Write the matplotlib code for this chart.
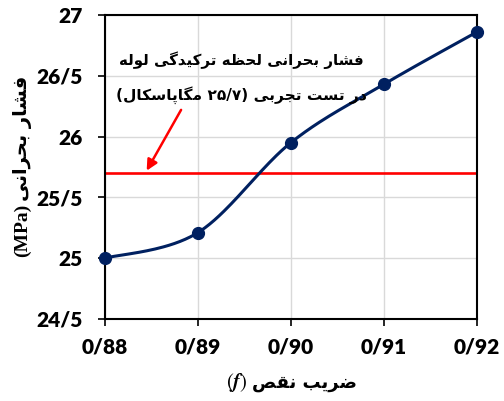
import matplotlib
matplotlib.use("Agg")
import matplotlib.pyplot as plt
import numpy as np
from matplotlib.ticker import FuncFormatter

plt.rcParams['mathtext.fontset'] = 'stix'

# data
f_vals = [0.88, 0.89, 0.90, 0.91, 0.92]
p_crit = [25.0, 25.21, 25.95, 26.43, 26.86]
p_test = 25.7

# minimal arabic/persian shaping (matplotlib does no shaping or bidi)
FORMS = {
    'ا': ('\uFE8D', '\uFE8E'), 'د': ('\uFEA9', '\uFEAA'), 'ر': ('\uFEAD', '\uFEAE'),
    'و': ('\uFEED', '\uFEEE'),
    'ب': ('\uFE8F', '\uFE90', '\uFE91', '\uFE92'), 'پ': ('\uFB56', '\uFB57', '\uFB58', '\uFB59'),
    'ت': ('\uFE95', '\uFE96', '\uFE97', '\uFE98'), 'ج': ('\uFE9D', '\uFE9E', '\uFE9F', '\uFEA0'),
    'ح': ('\uFEA1', '\uFEA2', '\uFEA3', '\uFEA4'), 'س': ('\uFEB1', '\uFEB2', '\uFEB3', '\uFEB4'),
    'ش': ('\uFEB5', '\uFEB6', '\uFEB7', '\uFEB8'), 'ص': ('\uFEB9', '\uFEBA', '\uFEBB', '\uFEBC'),
    'ض': ('\uFEBD', '\uFEBE', '\uFEBF', '\uFEC0'), 'ظ': ('\uFEC5', '\uFEC6', '\uFEC7', '\uFEC8'),
    'ف': ('\uFED1', '\uFED2', '\uFED3', '\uFED4'), 'ق': ('\uFED5', '\uFED6', '\uFED7', '\uFED8'),
    'ک': ('\uFB8E', '\uFB8F', '\uFB90', '\uFB91'), 'گ': ('\uFB92', '\uFB93', '\uFB94', '\uFB95'),
    'ل': ('\uFEDD', '\uFEDE', '\uFEDF', '\uFEE0'), 'م': ('\uFEE1', '\uFEE2', '\uFEE3', '\uFEE4'),
    'ن': ('\uFEE5', '\uFEE6', '\uFEE7', '\uFEE8'), 'ه': ('\uFEE9', '\uFEEA', '\uFEEB', '\uFEEC'),
    'ی': ('\uFBFC', '\uFBFD', '\uFBFE', '\uFBFF'),
}


def shape(text):
    out = []
    for i, c in enumerate(text):
        if c not in FORMS:
            out.append(c)
            continue
        prev = text[i - 1] if i > 0 else ''
        nxt = text[i + 1] if i + 1 < len(text) else ''
        join_prev = prev in FORMS and len(FORMS[prev]) == 4
        join_next = len(FORMS[c]) == 4 and nxt in FORMS
        fm = FORMS[c]
        if join_prev and join_next:
            out.append(fm[3])
        elif join_prev:
            out.append(fm[1])
        elif join_next:
            out.append(fm[2])
        else:
            out.append(fm[0])
    return ''.join(reversed(out))


def smooth(x, y, n=40):
    # excel-like smoothed line: cubic bezier with catmull-rom control points
    x = np.asarray(x, float)
    y = np.asarray(y, float)
    px = np.concatenate([[x[0]], x, [x[-1]]])
    py = np.concatenate([[y[0]], y, [y[-1]]])
    xs, ys = [], []
    t = np.linspace(0, 1, n)
    for i in range(1, len(px) - 2):
        p0 = np.array([px[i], py[i]])
        p3 = np.array([px[i + 1], py[i + 1]])
        p1 = p0 + (np.array([px[i + 1], py[i + 1]]) - np.array([px[i - 1], py[i - 1]])) / 6
        p2 = p3 - (np.array([px[i + 2], py[i + 2]]) - np.array([px[i], py[i]])) / 6
        b = ((1 - t) ** 3)[:, None] * p0 + (3 * (1 - t) ** 2 * t)[:, None] * p1 \
            + (3 * (1 - t) * t ** 2)[:, None] * p2 + (t ** 3)[:, None] * p3
        xs.extend(b[:, 0])
        ys.extend(b[:, 1])
    return xs, ys


navy = '#002060'
fig = plt.figure(figsize=(5.04, 4.01), dpi=100)
ax = fig.add_axes([0.208, 0.2045, 0.738, 0.758])

ax.grid(True, color='#d9d9d9', lw=1, zorder=0)
ax.axhline(p_test, xmin=0, xmax=1, color='#ff0000', lw=1.9, zorder=2)

sx, sy = smooth(f_vals, p_crit)
ax.plot(sx, sy, color=navy, lw=2.2, zorder=3)
ax.plot(f_vals, p_crit, 'o', color=navy, ms=8.5, zorder=4, clip_on=False)

ax.set_xlim(0.88, 0.92)
ax.set_ylim(24.5, 27)
ax.set_xticks(f_vals)
ax.set_yticks([24.5, 25, 25.5, 26, 26.5, 27])
ax.xaxis.set_major_formatter(FuncFormatter(lambda v, p: ('%.2f' % v).replace('.', '/')))
ax.yaxis.set_major_formatter(FuncFormatter(lambda v, p: ('%g' % v).replace('.', '/')))
ax.tick_params(direction='out', length=5, width=1.2, labelsize=15)
ax.tick_params(axis='y', pad=11)
ax.tick_params(axis='x', pad=8)
for lab in ax.get_xticklabels() + ax.get_yticklabels():
    lab.set_fontfamily('Lato')
    lab.set_fontweight('heavy')
for s in ax.spines.values():
    s.set_linewidth(1.5)
    s.set_color('black')

# annotation text
line1 = shape('فشار بحرانی لحظه ترکیدگی لوله')
line2 = '(' + shape('مگاپاسکال') + ' ' + '۲۵/۷' + ')' + ' ' + shape('در تست تجربی')
ax.text(0.8947, 26.63, line1, ha='center', va='center', fontsize=10.8,
        fontweight='bold', family=['DejaVu Sans'], zorder=5)
ax.text(0.8947, 26.34, line2, ha='center', va='center', fontsize=11.1,
        fontweight='bold', family=['DejaVu Sans'], zorder=5)
ax.annotate('', xy=(0.8845, 25.72), xytext=(0.8882, 26.22),
            arrowprops=dict(arrowstyle='-|>', color='#ff0000', lw=1.8,
                            mutation_scale=16, shrinkA=0, shrinkB=0), zorder=5)

# axis titles (persian part and latin part drawn side by side)
fig.text(0.5, 0.045, shape('ضریب نقص'), ha='left', va='center', fontsize=13,
         fontweight='bold', family=['DejaVu Sans'])
fig.text(0.491, 0.045, r'$(\mathbfit{f})$', ha='right', va='center', fontsize=15)

fig.text(0.045, 0.655, shape('فشار بحرانی'), ha='center', va='center', rotation=90,
         fontsize=14, fontweight='bold', family=['DejaVu Sans'])
fig.text(0.045, 0.425, '(MPa)', ha='center', va='center', rotation=90,
         fontsize=14, family='Liberation Serif', fontweight='bold')

fig.savefig('out.png', dpi=100)
